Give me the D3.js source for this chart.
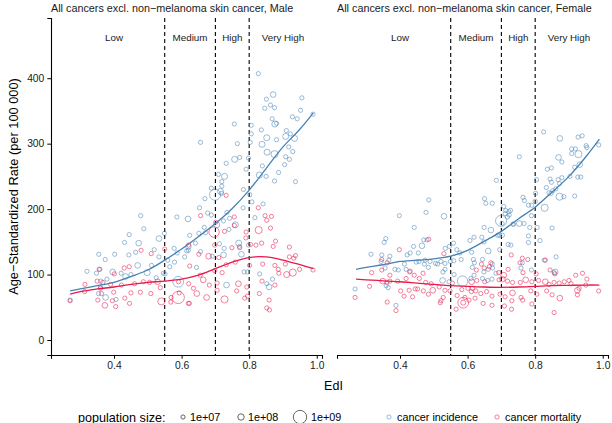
<!DOCTYPE html>
<html>
<head>
<meta charset="utf-8">
<script src="https://cdn.jsdelivr.net/npm/d3@7"></script>
<style>
  body { margin: 0; background: #fff; }
  text { font-family: "Liberation Sans", Arial, sans-serif; }
</style>
</head>
<body>
<div id="chart"></div>
<script>
// [EdI, age-standardized rate, population (millions)]
const maleIncidence = [
  [0.827,407,10],[0.871,375,60],[0.851,368,10],[0.956,370,10],[0.863,359,10],[0.846,354,10],[0.875,355,10],
  [0.952,351,10],[0.989,345,10],[0.928,341,10],[0.942,338,10],[0.868,338,10],[0.876,330,80],[0.881,331,10],
  [0.756,330,10],[0.806,328,10],[0.836,321,10],[0.91,320,10],[0.806,315,10],[0.922,315,10],[0.908,311,80],
  [0.934,308,80],[0.852,309,80],[0.881,306,10],[0.656,302,10],[0.765,300,10],[0.803,302,10],[0.838,299,80],
  [0.917,295,10],[0.929,288,10],[0.853,287,80],[0.875,284,150],[0.908,280,10],[0.919,276,10],[0.772,279,10],
  [0.757,276,80],[0.798,278,10],[0.732,270,10],[0.905,268,10],[0.839,266,10],[0.791,261,10],[0.887,256,10],
  [0.83,252,80],[0.85,250,10],[0.727,250,80],[0.709,253,10],[0.875,243,10],[0.937,242,10],[0.719,242,10],
  [0.719,235,10],[0.688,232,10],[0.783,230,10],[0.715,227,80],[0.718,224,10],[0.699,222,600],[0.802,222,10],
  [0.653,202,10],[0.782,202,10],[0.841,208,10],[0.808,211,10],
  [0.479,190,10],[0.586,188,10],[0.619,185,60],[0.488,170,10],[0.445,161,10],[0.533,155,60],[0.431,149,10],
  [0.473,148,60],[0.624,160,10],[0.549,163,10],[0.519,138,10],[0.444,130,10],[0.402,131,10],[0.355,131,10],
  [0.464,134,10],[0.578,140,10],[0.587,133,10],[0.62,137,10],[0.374,123,10],[0.533,127,10],[0.559,122,10],
  [0.579,119,10],[0.609,127,10],[0.32,105,10],[0.348,102,10],[0.356,108,10],[0.396,104,60],[0.421,102,10],
  [0.45,100,10],[0.47,114,60],[0.498,103,80],[0.511,114,10],[0.525,95,10],[0.546,102,10],[0.565,112,10],
  [0.434,97,60],[0.379,93,10],[0.36,81,10],[0.354,71,10],[0.375,65,60],[0.406,62,10],[0.59,89,550],
  [0.27,61,10],[0.361,90,10],[0.551,101,10],[0.62,143,60],
  [0.677,194,10],[0.688,191,10],[0.734,195,10],[0.742,186,10],[0.817,187,10],[0.704,176,80],[0.724,182,10],
  [0.759,176,80],[0.667,172,10],[0.651,163,10],[0.671,164,10],[0.74,169,10],[0.769,148,80],[0.771,143,10],
  [0.798,145,10],[0.712,147,10],[0.726,140,10],[0.724,130,60],[0.777,131,60],[0.615,136,10],[0.691,128,10],
  [0.644,111,10],[0.785,104,10],[0.795,104,10],[0.831,101,10],[0.852,86,10],[0.859,81,60],[0.733,84,60],
  [0.656,135,10],[0.641,148,10],[0.869,93,10],[0.669,216,10]
];
const maleMortality = [
  [0.732,221,10],[0.827,202,10],
  [0.48,137,10],[0.51,132,10],[0.55,139,10],[0.621,145,10],[0.358,108,10],[0.43,110,10],[0.445,112,10],
  [0.401,101,10],[0.35,90,10],[0.367,88,10],[0.314,85,10],[0.39,85,10],[0.422,84,10],[0.461,86,10],
  [0.487,89,10],[0.505,88,10],[0.529,89,60],[0.537,80,10],[0.591,89,10],[0.621,86,10],[0.27,60,10],
  [0.352,61,10],[0.373,53,60],[0.395,60,10],[0.405,51,10],[0.432,64,10],[0.45,72,10],[0.478,73,10],
  [0.509,71,10],[0.54,59,150],[0.569,65,10],[0.593,72,10],[0.59,65,800],[0.62,56,10],[0.446,56,10],
  [0.363,71,10],[0.399,73,10],[0.568,58,10],[0.624,113,10],[0.313,74,10],[0.36,79,10],
  [0.656,190,10],[0.847,190,10],[0.866,189,10],[0.852,183,10],[0.756,188,10],[0.701,180,10],[0.727,166,10],
  [0.756,175,10],[0.791,165,10],[0.828,168,150],[0.863,171,10],[0.878,151,10],[0.919,142,10],[0.837,148,10],
  [0.871,143,10],[0.82,145,10],[0.804,146,10],[0.79,156,10],[0.772,141,10],[0.749,141,10],[0.698,145,10],
  [0.651,131,10],[0.68,128,60],[0.71,126,10],[0.732,115,10],[0.759,119,10],[0.801,114,10],[0.84,116,10],
  [0.876,114,10],[0.907,116,10],[0.937,129,10],[0.932,125,10],[0.919,127,10],[0.886,108,10],[0.911,100,80],
  [0.929,103,150],[0.949,108,10],[0.989,107,10],[0.698,106,10],[0.72,103,10],[0.655,99,10],[0.664,92,60],
  [0.705,87,10],[0.682,84,10],[0.768,86,60],[0.793,81,10],[0.838,90,10],[0.876,84,10],[0.635,79,10],
  [0.645,71,60],[0.674,65,60],[0.727,62,150],[0.763,75,10],[0.795,67,10],[0.787,64,10],[0.83,71,10],
  [0.859,61,10],[0.852,49,10],[0.86,46,10],[0.623,56,10],[0.705,76,10],[0.888,102,10],[0.696,165,500]
];
const femaleIncidence = [
  [0.825,318,10],[0.873,308,60],[0.927,310,10],[0.939,312,10],[0.908,292,10],[0.919,292,10],[0.928,284,150],
  [0.908,285,10],[0.951,297,10],[0.953,294,10],[0.988,298,10],[0.869,279,60],[0.879,272,10],[0.753,280,10],
  [0.932,268,60],[0.917,264,10],[0.836,261,10],[0.848,263,10],[0.685,244,10],[0.844,246,10],[0.848,241,10],
  [0.868,245,10],[0.879,248,10],[0.903,250,10],[0.926,249,10],[0.935,249,10],[0.804,245,10],[0.833,233,10],
  [0.841,225,10],[0.872,239,10],[0.861,231,10],[0.801,224,10],[0.847,224,10],[0.852,228,10],[0.872,219,150],
  [0.885,219,10],[0.917,220,10],[0.764,218,10],[0.768,213,10],[0.8,212,10],[0.78,206,10],[0.79,206,10],
  [0.828,202,150],[0.65,216,10],[0.654,209,10],[0.673,209,10],[0.485,214,10],[0.398,190,10],[0.477,195,10],
  [0.53,189,60],[0.442,172,10],[0.707,204,10],[0.713,198,10],[0.722,196,10],[0.727,198,10],[0.711,193,10],
  [0.723,191,10],[0.718,188,10],[0.699,182,600],[0.753,178,60],[0.789,190,10],[0.649,172,10],[0.669,168,60],
  [0.734,177,10],[0.784,172,10],[0.806,172,10],[0.85,171,10],
  [0.358,155,10],[0.353,149,10],[0.47,153,10],[0.48,153,10],[0.44,143,10],[0.465,144,60],[0.534,140,10],
  [0.546,143,10],[0.558,148,10],[0.607,152,10],[0.314,131,10],[0.346,130,10],[0.37,128,10],[0.367,122,10],
  [0.421,130,10],[0.43,133,10],[0.454,133,10],[0.413,116,10],[0.448,119,10],[0.456,120,10],[0.474,122,10],
  [0.489,120,10],[0.505,117,10],[0.521,120,10],[0.533,117,10],[0.568,138,10],[0.577,133,10],[0.581,123,10],
  [0.344,120,10],[0.356,110,10],[0.385,108,10],[0.395,107,10],[0.418,108,10],[0.428,104,10],[0.472,116,10],
  [0.484,111,10],[0.511,116,10],[0.527,104,10],[0.533,108,10],[0.526,91,60],[0.545,89,10],[0.585,90,500],
  [0.61,94,10],[0.56,100,10],[0.267,78,10],[0.359,83,10],[0.365,80,10],[0.388,53,10],[0.549,120,10],
  [0.559,121,10],[0.612,134,10],[0.617,123,10],
  [0.702,178,10],[0.736,177,10],[0.767,178,10],[0.619,157,10],[0.642,157,10],[0.648,150,10],[0.689,160,10],
  [0.695,160,10],[0.703,160,10],[0.72,146,10],[0.728,145,10],[0.78,159,10],[0.78,149,10],[0.814,152,10],
  [0.661,136,60],[0.695,138,10],[0.62,118,10],[0.614,111,10],[0.644,123,10],[0.673,116,10],[0.674,110,10],
  [0.661,108,10],[0.648,104,10],[0.684,102,10],[0.762,118,10],[0.758,110,10],[0.789,107,10],[0.827,122,10],
  [0.862,127,10],[0.856,103,10],[0.859,104,60],[0.644,94,10],[0.659,91,10],[0.672,93,10],[0.619,99,10]
];
const femaleMortality = [
  [0.398,138,10],[0.485,154,10],[0.53,132,10],[0.346,123,10],[0.316,103,10],[0.346,107,10],[0.362,118,10],
  [0.37,99,10],[0.349,90,60],[0.37,90,10],[0.393,90,10],[0.418,94,10],[0.43,105,10],[0.442,99,10],
  [0.457,94,10],[0.468,102,10],[0.476,88,10],[0.492,86,10],[0.452,78,10],[0.445,78,10],[0.427,76,10],
  [0.402,75,10],[0.31,82,10],[0.267,65,10],[0.361,88,10],[0.362,58,10],[0.388,45,10],[0.469,75,10],
  [0.497,76,60],[0.516,81,10],[0.533,76,10],[0.528,65,10],[0.521,60,10],[0.519,57,10],[0.548,75,10],
  [0.555,87,10],[0.583,77,10],[0.587,57,550],[0.587,57,30],[0.566,47,10],[0.569,68,10],[0.592,65,10],
  [0.601,79,10],[0.604,61,10],[0.611,74,10],[0.437,66,10],[0.412,67,10],[0.484,70,10],
  [0.729,130,10],[0.755,118,10],[0.764,103,10],[0.778,123,10],[0.83,122,10],[0.803,101,10],[0.844,107,10],
  [0.858,101,10],[0.72,108,10],[0.692,103,10],[0.707,99,60],[0.669,118,10],[0.664,112,10],[0.649,110,10],
  [0.626,107,10],[0.651,89,10],[0.627,91,10],[0.612,89,60],[0.693,92,10],[0.703,93,60],[0.718,90,10],
  [0.733,88,10],[0.756,88,10],[0.772,92,60],[0.79,89,10],[0.81,91,10],[0.83,89,60],[0.841,85,10],
  [0.856,88,10],[0.871,87,10],[0.886,89,10],[0.9,91,10],[0.906,86,10],[0.92,99,10],[0.94,102,10],
  [0.953,93,10],[0.93,79,10],[0.925,76,60],[0.95,84,10],[0.988,75,10],[0.614,79,10],[0.624,75,10],
  [0.639,71,10],[0.656,74,10],[0.672,67,10],[0.622,64,10],[0.646,56,10],[0.672,53,10],[0.696,70,10],
  [0.711,66,10],[0.733,72,60],[0.731,60,10],[0.709,52,10],[0.73,47,10],[0.758,65,10],[0.763,61,10],
  [0.79,55,10],[0.787,75,10],[0.805,70,10],[0.834,75,10],[0.85,69,10],[0.873,64,60],[0.856,42,10],
  [0.925,69,10],[0.762,125,10],[0.641,116,10]
];

// loess fits
const fitEdi = [0.27,0.3,0.35,0.4,0.45,0.5,0.55,0.6,0.65,0.7,0.75,0.8,0.85,0.9,0.95,0.99];
const maleIncidenceFit   = [75,78,83,88,97,107,122,139,158,178,201,229,262,295,322,347];
const maleMortalityFit   = [70,74,78,81,85,88,90,93,99,109,119,126,127,122,115,109];
const femaleIncidenceFit = [108,111,115,120,122,124,128,137,151,166,185,203,226,250,280,307];
const femaleMortalityFit = [93,92,90.5,89,87,85,83,82,81,80.5,81,82,83,83.5,84,84];

const ediTicks = [0.4, 0.6, 0.8, 1.0];
const rateTicks = [0, 100, 200, 300, 400];
const bandEdges = [0.25, 0.55, 0.7, 0.8, 1.0];
const bandNames = ["Low", "Medium", "High", "Very High"];
const sizeBreaks = [1e7, 1e8, 1e9];

const W = 612, H = 423;
const panelW = 271, yTop = 18, yBottom = 355;
const panelX = [51, 337];
const colInc = "#4682b4", colMort = "#e8194a";

const svg = d3.select("#chart").append("svg")
    .attr("width", W).attr("height", H);

const x = d3.scaleLinear().domain([0.2135, 1.0155]).range([0, panelW]);
const y = d3.scaleLinear().domain([-22.9, 492]).range([yBottom, yTop]);
const r = d3.scaleSqrt().domain([0, 1.4e9]).range([1.6, 7.6]);

const panels = [
  {title: "All cancers excl. non\u2212melanoma skin cancer, Male",
   inc: maleIncidence, mort: maleMortality, incFit: maleIncidenceFit, mortFit: maleMortalityFit},
  {title: "All cancers excl. non\u2212melanoma skin cancer, Female",
   inc: femaleIncidence, mort: femaleMortality, incFit: femaleIncidenceFit, mortFit: femaleMortalityFit}
];

const line = d3.line()
    .x(d => x(d[0]))
    .y(d => y(d[1]))
    .curve(d3.curveCatmullRom);

panels.forEach((p, k) => {
  const g = svg.append("g").attr("transform", `translate(${panelX[k]},0)`);

  g.append("text")
      .attr("x", 0).attr("y", 12)
      .attr("font-size", 10.8)
      .attr("fill", "#1a1a1a")
      .text(p.title);

  // category cutoffs
  g.selectAll("line.cut")
    .data(bandEdges.slice(1, -1))
    .join("line")
      .attr("class", "cut")
      .attr("x1", d => x(d)).attr("x2", d => x(d))
      .attr("y1", yTop).attr("y2", yBottom)
      .attr("stroke", "#000")
      .attr("stroke-width", 1.1)
      .attr("stroke-dasharray", "4,3");

  g.selectAll("text.band")
    .data(bandNames)
    .join("text")
      .attr("class", "band")
      .attr("x", (d, i) => x((bandEdges[i] + bandEdges[i + 1]) / 2))
      .attr("y", 40.5)
      .attr("text-anchor", "middle")
      .attr("font-size", 9.8)
      .attr("fill", "#1a1a1a")
      .text(d => d);

  const pts = [].concat(
    p.inc.map(d => ({d, c: colInc})),
    p.mort.map(d => ({d, c: colMort}))
  );
  g.append("g").selectAll("circle")
    .data(pts)
    .join("circle")
      .attr("cx", o => x(o.d[0]))
      .attr("cy", o => y(o.d[1]))
      .attr("r", o => r(o.d[2] * 1e6))
      .attr("fill", "none")
      .attr("stroke", o => o.c)
      .attr("stroke-opacity", 0.6)
      .attr("stroke-width", 0.9);

  [[p.incFit, colInc], [p.mortFit, colMort]].forEach(([vals, col]) => {
    g.append("path")
        .datum(fitEdi.map((e, i) => [e, vals[i]]))
        .attr("d", line)
        .attr("fill", "none")
        .attr("stroke", col)
        .attr("stroke-width", 1.3);
  });

  const xAxis = g.append("g")
      .attr("transform", `translate(0,${yBottom})`)
      .call(d3.axisBottom(x).tickValues(ediTicks).tickFormat(d3.format(".1f")).tickSizeOuter(0).tickSize(3.7).tickPadding(3));
  xAxis.select(".domain").attr("stroke-width", 1.1);
  xAxis.selectAll("text").attr("font-size", 10.3).attr("fill", "#1a1a1a")
      .attr("font-family", "Liberation Sans, Arial, sans-serif");

  if (k === 0) {
    const yAxis = g.append("g")
        .call(d3.axisLeft(y).tickValues(rateTicks).tickSizeOuter(0).tickSize(3.7).tickPadding(3));
    yAxis.select(".domain").attr("stroke-width", 1.1);
    yAxis.selectAll("text").attr("font-size", 10.3).attr("fill", "#1a1a1a")
        .attr("font-family", "Liberation Sans, Arial, sans-serif");
  }
});

// axis titles
svg.append("text")
    .attr("x", (panelX[0] + panelX[1] + panelW) / 2 + 4)
    .attr("y", 390)
    .attr("text-anchor", "middle")
    .attr("font-size", 12.5)
    .text("EdI");

svg.append("text")
    .attr("transform", `translate(18,${(yTop + yBottom) / 2}) rotate(-90)`)
    .attr("text-anchor", "middle")
    .attr("font-size", 12.8)
    .text("Age\u2212Standardized Rate (per 100 000)");

// legend
const ly = 417;
const legend = svg.append("g");
legend.append("text")
    .attr("x", 78).attr("y", ly + 4.5)
    .attr("font-size", 12.6)
    .text("population size:");

const sizeX = [183, 241, 300];
sizeBreaks.forEach((s, i) => {
  legend.append("circle")
      .attr("cx", sizeX[i]).attr("cy", ly)
      .attr("r", r(s))
      .attr("fill", "none")
      .attr("stroke", "#555")
      .attr("stroke-width", 0.9);
  legend.append("text")
      .attr("x", sizeX[i] + (i === 2 ? 11 : 7)).attr("y", ly + 3.8)
      .attr("font-size", 10.8)
      .text(d3.format(".0e")(s).replace("e+", "e+0"));
});

[["cancer incidence", colInc, 389], ["cancer mortality", colMort, 497]].forEach(([lab, col, lx]) => {
  legend.append("circle")
      .attr("cx", lx).attr("cy", ly)
      .attr("r", 2.1)
      .attr("fill", "none")
      .attr("stroke", col)
      .attr("stroke-opacity", 0.6)
      .attr("stroke-width", 0.9);
  legend.append("text")
      .attr("x", lx + 8).attr("y", ly + 3.8)
      .attr("font-size", 10.8)
      .text(lab);
});
</script>
</body>
</html>
